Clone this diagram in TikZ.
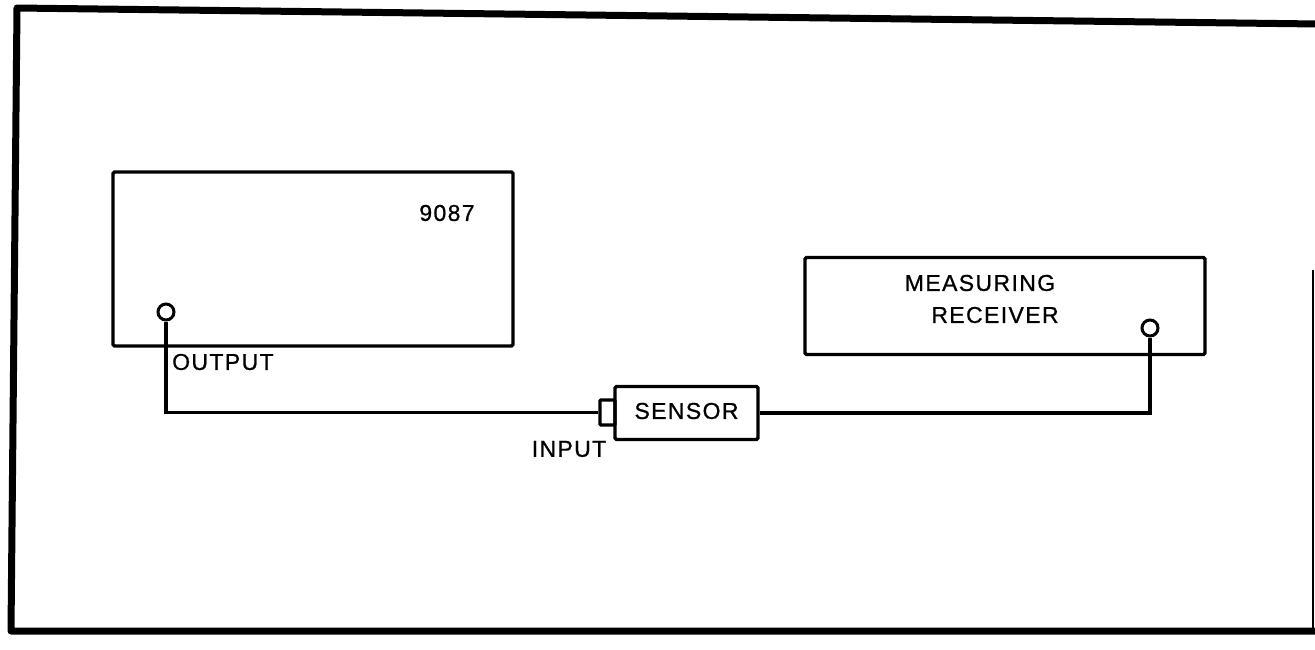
\documentclass[tikz,border=0pt]{standalone}
\usepackage{fontspec}
\setmainfont{Liberation Sans}[LetterSpace=6,FakeBold=0.8]
\begin{document}
\begin{tikzpicture}[x=1pt,y=-1pt,
  box/.style={draw,line width=3.4pt,rounded corners=1.5pt,minimum width=#1,inner sep=0pt},
  port/.style={draw,circle,line width=3pt,minimum size=16pt,inner sep=0pt},
  wire/.style={line width=3.2pt},
  lbl/.style={font=\fontsize{23}{26}\selectfont,inner sep=0pt},
  frame/.style={line width=7pt,line join=round}]
\useasboundingbox (0,0) rectangle (1315,649);
% outer frame
\draw[frame] (1318,24) -- (17,8) -- (11,631) -- (1316,631);
\draw[line width=2.2pt] (1313,270) -- (1313,631);
% instruments
\node[box=400pt,minimum height=174pt] (gen) at (313,259) {};
\node[box=400pt,minimum height=97pt] (rec) at (1005,306) {};
\node[box=143pt,minimum height=53pt] (sensor) at (686.5,413) {};
\node[box=15pt,minimum height=25pt,rounded corners=1pt] (plug) at (607.5,412.5) {};
\node[port] (outp) at (166,312) {};
\node[port] (recp) at (1150,328) {};
% labels
\node[lbl] (t9087) at (447,213) {9087};
\node[lbl,anchor=west] (tout) at (172,362) {OUTPUT};
\node[lbl] (tin) at (569,449) {INPUT};
\node[lbl] (tsen) at (686.5,411) {SENSOR};
\node[lbl] (tmeas) at (980,283) {MEASURING};
\node[lbl] (trec) at (995,315) {RECEIVER};
% wiring
\draw[wire] (outp.south) |- (plug.west);
\draw[wire] (sensor.east) -| (recp.south);
\end{tikzpicture}
\end{document}
